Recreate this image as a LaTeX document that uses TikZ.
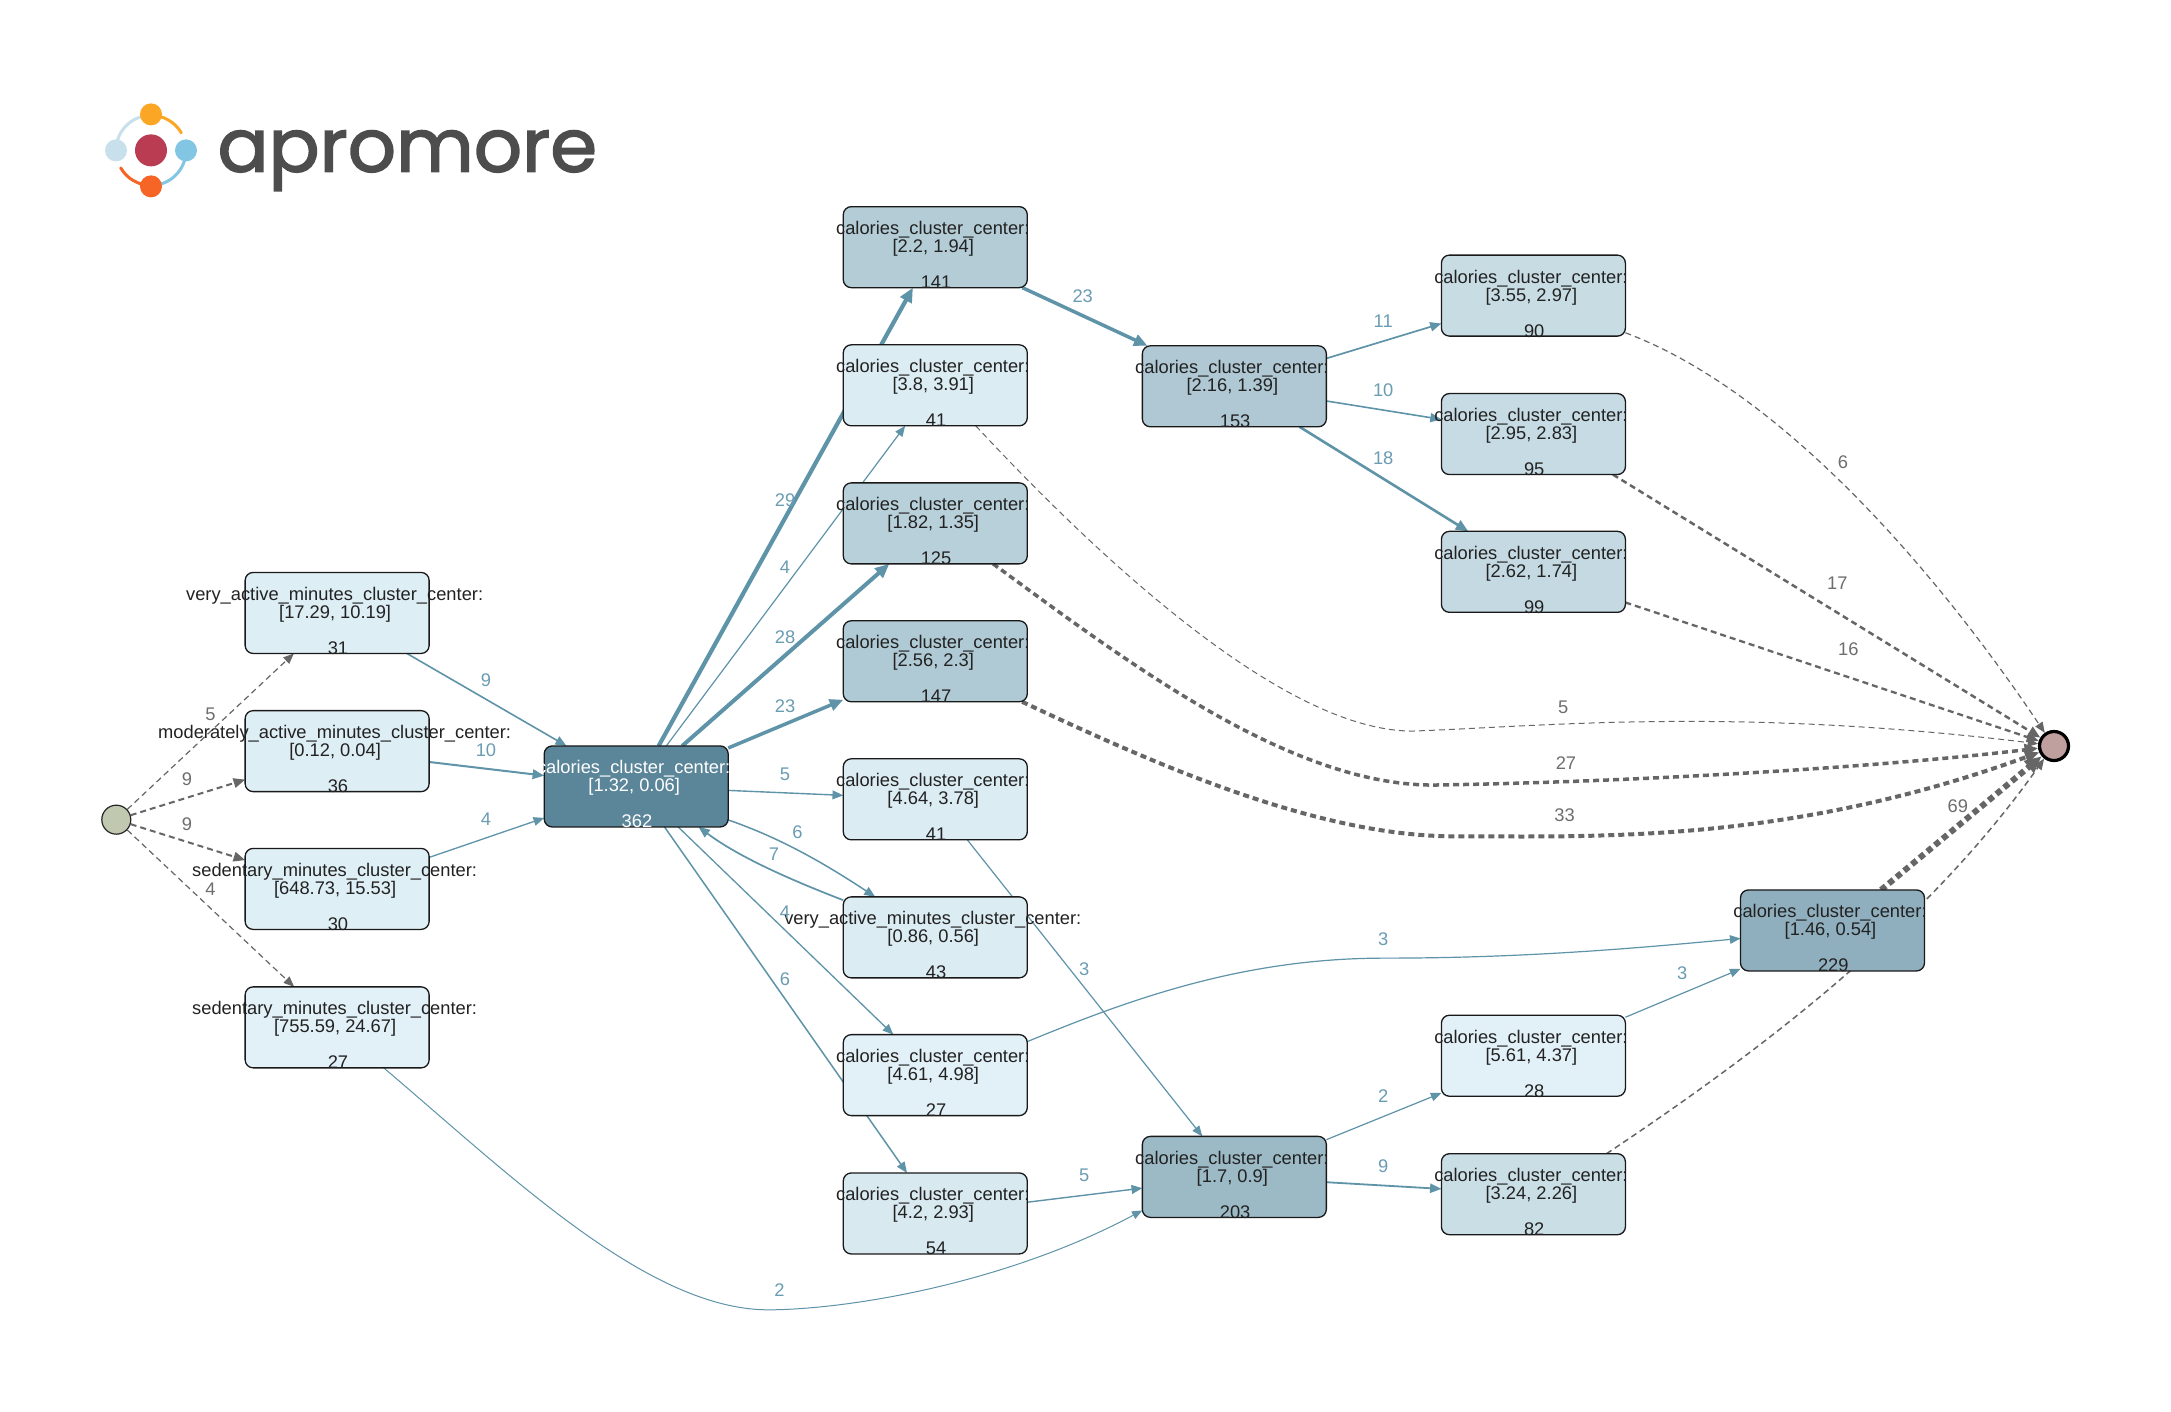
\documentclass[tikz,border=0pt]{standalone}
\usepackage{fontspec}
\setmainfont{Liberation Sans}
\newfontfamily\logofont[FakeBold=2]{Poppins}
\usetikzlibrary{arrows.meta,backgrounds}
\definecolor{eblue}{HTML}{5E93A8}
\definecolor{lblue}{HTML}{6A9CB2}
\definecolor{egray}{HTML}{666666}
\definecolor{lgray}{HTML}{6E6E6E}
\definecolor{ptx}{HTML}{222222}
\tikzset{
  pbase/.style={draw=black!90,line width=1.3pt,rounded corners=8pt,minimum width=184pt,minimum height=81pt,inner sep=0pt,outer sep=0pt},
  ptext/.style={inner sep=0pt,align=center,font=\fontsize{18.3pt}{18pt}\selectfont,yshift=-8pt,xshift=-2pt},
  be/.style={draw=eblue,line width=#1pt,-{Triangle[length=9pt 1.3,width=7pt 1.3]}},
  ge/.style={draw=egray,line width=#1pt,dash pattern=on 6pt off 4pt,-{Triangle[length=9pt 1.3,width=7pt 1.3]}},
  bl/.style={text=lblue,inner sep=0pt,font=\fontsize{18.3pt}{18pt}\selectfont},
  gl/.style={text=lgray,inner sep=0pt,font=\fontsize{18.3pt}{18pt}\selectfont},
}
\newcommand\pbox[7][ptx]{%
  \node[pbase,fill={#5}] (#2) at (#3,#4) {};
  \node[ptext,text=#1] (#2t) at (#2) {\hspace*{-1pt}#6\\[18pt]\hspace*{5.6pt}#7};
}
\newcommand\plab[5]{\node[#1] (#2) at (#3,#4) {#5};}
\newcommand\calline[1]{calories\_cluster\_center:\\#1}
\begin{document}
\begin{tikzpicture}[x=1.38457pt,y=-1.38457pt]
\useasboundingbox (0,0) rectangle (1568,1019.8);
% logo
\begin{scope}[shift={(109.06,108.6)},x=1pt,y=1pt,line cap=round]
  \draw[line width=3pt,color={rgb,255:red,199;green,224;blue,236}] (-35,0) arc[start angle=180,end angle=90,radius=35];
  \draw[line width=3pt,color={rgb,255:red,251;green,166;blue,36}] (0,35) arc[start angle=90,end angle=30,radius=35];
  \draw[line width=3pt,color={rgb,255:red,131;green,198;blue,227}] (35,0) arc[start angle=0,end angle=-90,radius=35];
  \draw[line width=3pt,color={rgb,255:red,246;green,101;blue,38}] (0,-35) arc[start angle=270,end angle=210,radius=35];
  \fill[color={rgb,255:red,251;green,166;blue,36}] (0,36) circle[radius=11];
  \fill[color={rgb,255:red,199;green,224;blue,236}] (-35,0) circle[radius=11];
  \fill[color={rgb,255:red,131;green,198;blue,227}] (35,0) circle[radius=11];
  \fill[color={rgb,255:red,246;green,101;blue,38}] (0,-36) circle[radius=11];
  \fill[color={rgb,255:red,186;green,60;blue,82}] (0,0) circle[radius=16];
\end{scope}
\node[anchor=base west,inner sep=0pt,xscale=1.02,text={rgb,255:red,77;green,77;blue,77}] (logotext) at (157,124) {\logofont\fontsize{74pt}{74pt}\selectfont apromore};
% process nodes
\pbox{A}{243.5}{442.7}{rgb,255:red,222;green,238;blue,245}{very\_active\_minutes\_cluster\_center:\\{[17.29, 10.19]}}{31}
\pbox{B}{243.5}{542.5}{rgb,255:red,222;green,238;blue,245}{moderately\_active\_minutes\_cluster\_center:\\{[0.12, 0.04]}}{36}
\pbox{C}{243.5}{642}{rgb,255:red,223;green,239;blue,246}{sedentary\_minutes\_cluster\_center:\\{[648.73, 15.53]}}{30}
\pbox{D}{243.5}{742}{rgb,255:red,226;green,240;blue,247}{sedentary\_minutes\_cluster\_center:\\{[755.59, 24.67]}}{27}
\pbox[white]{E}{459.5}{568}{rgb,255:red,91;green,133;blue,153}{\calline{{[1.32, 0.06]}}}{362}
\pbox{F}{675.5}{178.5}{rgb,255:red,179;green,204;blue,214}{\calline{{[2.2, 1.94]}}}{141}
\pbox{G}{675.5}{278.3}{rgb,255:red,220;green,236;blue,243}{\calline{{[3.8, 3.91]}}}{41}
\pbox{H}{675.5}{378}{rgb,255:red,184;green,208;blue,218}{\calline{{[1.82, 1.35]}}}{125}
\pbox{I}{675.5}{477.6}{rgb,255:red,176;green,202;blue,213}{\calline{{[2.56, 2.3]}}}{147}
\pbox{J}{675.5}{577.3}{rgb,255:red,220;green,236;blue,243}{\calline{{[4.64, 3.78]}}}{41}
\pbox{K}{675.5}{677}{rgb,255:red,220;green,236;blue,243}{very\_active\_minutes\_cluster\_center:\\{[0.86, 0.56]}}{43}
\pbox{L}{675.5}{776.5}{rgb,255:red,226;green,240;blue,247}{\calline{{[4.61, 4.98]}}}{27}
\pbox{M}{675.5}{876.4}{rgb,255:red,216;green,233;blue,240}{\calline{{[4.2, 2.93]}}}{54}
\pbox{N}{891.5}{279}{rgb,255:red,175;green,200;blue,211}{\calline{{[2.16, 1.39]}}}{153}
\pbox{O}{1107.5}{213.5}{rgb,255:red,200;green,220;blue,228}{\calline{{[3.55, 2.97]}}}{90}
\pbox{P}{1107.5}{313.5}{rgb,255:red,198;green,219;blue,227}{\calline{{[2.95, 2.83]}}}{95}
\pbox{Q}{1107.5}{413}{rgb,255:red,196;green,217;blue,225}{\calline{{[2.62, 1.74]}}}{99}
\pbox{R}{891.5}{850}{rgb,255:red,156;green,185;blue,198}{\calline{{[1.7, 0.9]}}}{203}
\pbox{S}{1107.5}{762.5}{rgb,255:red,226;green,240;blue,247}{\calline{{[5.61, 4.37]}}}{28}
\pbox{T}{1107.5}{862.5}{rgb,255:red,202;green,222;blue,230}{\calline{{[3.24, 2.26]}}}{82}
\pbox{U}{1323.5}{672}{rgb,255:red,144;green,175;blue,190}{\calline{{[1.46, 0.54]}}}{229}
\node[circle,draw=black!85,line width=1.2pt,fill={rgb,255:red,192;green,201;blue,176},minimum size=29pt,inner sep=0pt] (start) at (84,592) {};
\node[circle,draw=black,line width=3.2pt,fill={rgb,255:red,191;green,160;blue,158},minimum size=29pt,inner sep=0pt] (end) at (1483.5,538.8) {};
% connectors
\begin{pgfonlayer}{background}
\fill[white] (0,0) rectangle (1568,1019.8);
\draw[ge=1.2] (start) -- (A);
\draw[ge=2] (start) -- (B);
\draw[ge=2] (start) -- (C);
\draw[ge=1.2] (start) -- (D);
\draw[be=1.6] (A) -- (E);
\draw[be=2] (B) -- (E);
\draw[be=1.3] (C) -- (E);
\draw[be=4.2] (E) -- (F);
\draw[be=1.2] (E) -- (G);
\draw[be=4] (E) -- (H);
\draw[be=3.5] (E) -- (I);
\draw[be=1.4] (E) -- (J);
\draw[be=1.5] (E.-20) .. controls (560,604) and (590,620) .. (K.146);
\draw[be=1.7] (K.158) .. controls (575,637) and (535,620) .. (E.-33);
\draw[be=1.3] (E) -- (L);
\draw[be=1.5] (E) -- (M);
\draw[be=1.2] (J) -- (R);
\draw[be=1.2] (L.20) .. controls (820,720) and (900,692) .. (1000,692) .. controls (1100,692) and (1180,685) .. (U.185);
\draw[be=1.4] (M) -- (R);
\draw[be=1] (D.-41) .. controls (370,850) and (470,948) .. (558,946) .. controls (620,945) and (730,925) .. (R.200);
\draw[be=1.2] (R) -- (S);
\draw[be=1.8] (R) -- (T);
\draw[be=1.2] (S) -- (U);
\draw[be=3.5] (F) -- (N);
\draw[be=1.7] (N) -- (O);
\draw[be=1.6] (N) -- (P);
\draw[be=2.6] (N) -- (Q);
\draw[ge=1.2] (O.-22) .. controls (1280,280) and (1390,400) .. (end.125);
\draw[ge=2.5] (P.-27) -- (end);
\draw[ge=2.3] (Q) -- (end);
\draw[ge=1] (G.-45) .. controls (800,410) and (930,528) .. (1020,528) .. controls (1110,525) and (1250,510) .. (end.172);
\draw[ge=3.5] (H.-35) .. controls (810,475) and (930,567) .. (1035,567) .. controls (1170,565) and (1350,555) .. (end.188);
\draw[ge=4] (I.-25.5) .. controls (830,550) and (950,604) .. (1050,604) .. controls (1150,604) and (1290,610) .. (end.203);
\draw[ge=6] (U) -- (end);
\draw[ge=1.5] (T.29) .. controls (1270,760) and (1390,670) .. (end.232);
\end{pgfonlayer}
% connector labels
\plab{gl}{l01}{152}{516}{5}
\plab{gl}{l02}{135}{563}{9}
\plab{gl}{l03}{135}{595}{9}
\plab{gl}{l04}{152}{642}{4}
\plab{bl}{l05}{351}{491}{9}
\plab{bl}{l06}{351}{542}{10}
\plab{bl}{l07}{351}{592}{4}
\plab{bl}{l08}{567}{361}{29}
\plab{bl}{l09}{567}{410}{4}
\plab{bl}{l10}{567}{460}{28}
\plab{bl}{l11}{567}{510}{23}
\plab{bl}{l12}{567}{559}{5}
\plab{bl}{l13}{576}{601}{6}
\plab{bl}{l14}{559}{617}{7}
\plab{bl}{l15}{567}{659}{4}
\plab{bl}{l16}{567}{707}{6}
\plab{bl}{l17}{783}{700}{3}
\plab{bl}{l18}{999}{678}{3}
\plab{bl}{l19}{783}{849}{5}
\plab{bl}{l20}{563}{932}{2}
\plab{bl}{l21}{999}{792}{2}
\plab{bl}{l22}{999}{842}{9}
\plab{bl}{l23}{1215}{703}{3}
\plab{bl}{l24}{782}{214}{23}
\plab{bl}{l25}{999}{232}{11}
\plab{bl}{l26}{999}{282}{10}
\plab{bl}{l27}{999}{331}{18}
\plab{gl}{l28}{1331}{334}{6}
\plab{gl}{l29}{1327}{421}{17}
\plab{gl}{l30}{1335}{469}{16}
\plab{gl}{l31}{1129}{511}{5}
\plab{gl}{l32}{1131}{551}{27}
\plab{gl}{l33}{1130}{589}{33}
\plab{gl}{l34}{1414}{582}{69}
\end{tikzpicture}
\end{document}
